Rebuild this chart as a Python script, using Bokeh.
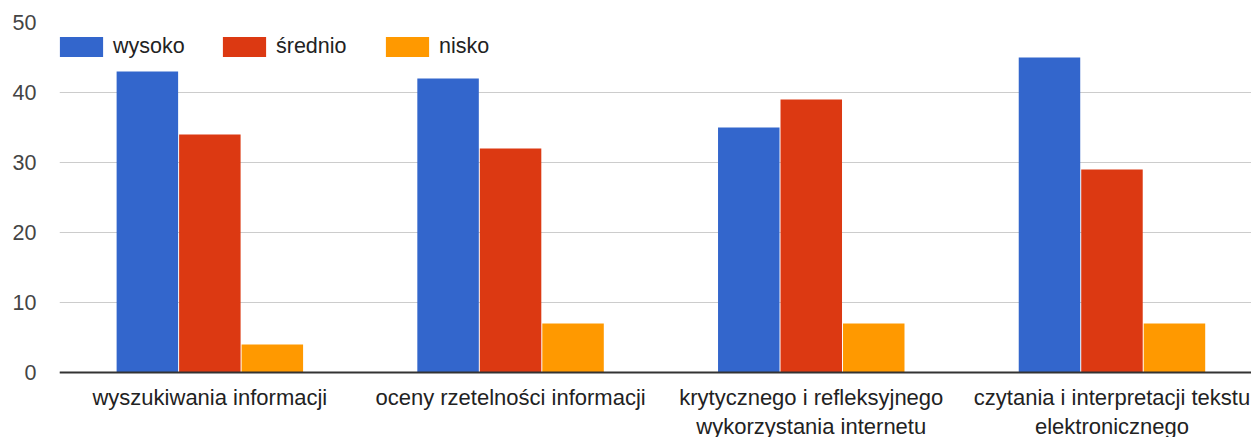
from bokeh.plotting import figure
from bokeh.models import Range1d, FixedTicker, Legend, LegendItem, ColumnDataSource, Span
from bokeh.core.properties import value
from bokeh.embed import file_html
from bokeh.resources import INLINE

categories = [
    "wyszukiwania informacji",
    "oceny rzetelności informacji",
    "krytycznego i refleksyjnego\nwykorzystania internetu",
    "czytania i interpretacji tekstu\nelektronicznego",
]
series_names = ["wysoko", "średnio", "nisko"]
wysoko = [43, 42, 35, 45]
srednio = [34, 32, 39, 29]
nisko = [4, 7, 7, 7]
colors = ["#3366cc", "#dc3912", "#ff9900"]
y_ticks = [0, 10, 20, 30, 40, 50]

FONT = "Liberation Sans"
FS = "21.5px"
CAT_FS = "22px"
centers = [i + 0.5 for i in range(len(categories))]

W, H = 1251, 437
TOP = 22                 # px above the 50 line
PX_PER_UNIT = 7.0        # vertical scale
y_min = -(H - TOP - 50 * PX_PER_UNIT) / PX_PER_UNIT   # room under the baseline for labels

p = figure(
    width=W, height=H,
    output_backend="svg", toolbar_location=None,
    x_range=Range1d(0, 3.964), y_range=Range1d(y_min, 50),
    min_border_left=59, min_border_right=0, min_border_top=TOP, min_border_bottom=0,
)
p.outline_line_color = None
p.background_fill_color = "white"
p.xaxis.visible = False

offsets = [-0.2078, 0.0, 0.2078]
items = []
for name, vals, col, off in zip(series_names, [wysoko, srednio, nisko], colors, offsets):
    src = ColumnDataSource(dict(x=[c + off for c in centers], top=vals))
    r = p.vbar(x="x", top="top", bottom=0, width=0.2045, source=src,
               fill_color=col, line_color=None)
    items.append(LegendItem(label=name, renderers=[r]))

# baseline at zero
p.add_layout(Span(location=0, dimension="width", line_color="#333333", line_width=2))

# category labels under the groups
label_y = -12 / PX_PER_UNIT
p.text(x=centers, y=[label_y] * len(centers), text=categories,
       text_align="center", text_baseline="top",
       text_font=value(FONT), text_font_size=value(CAT_FS), text_color="#222222",
       text_line_height=1.18)

frame_h = H - TOP
legend = Legend(items=items, orientation="horizontal",
                location=(-5, frame_h - 14 + 2.5 - 25),
                glyph_width=54, glyph_height=25, label_standoff=5, label_width=95,
                spacing=9, padding=0, margin=0,
                border_line_alpha=0, background_fill_alpha=0,
                label_text_font=FONT, label_text_font_size=FS,
                label_text_color="#222222", label_height=25)
p.add_layout(legend)

p.yaxis.ticker = FixedTicker(ticks=y_ticks)
p.yaxis.axis_line_color = None
p.yaxis.major_tick_line_color = None
p.yaxis.minor_tick_line_color = None
p.yaxis.major_label_standoff = 17
p.yaxis.major_label_text_font = FONT
p.yaxis.major_label_text_font_size = FS
p.yaxis.major_label_text_color = "#444444"

p.xgrid.grid_line_color = None
p.ygrid.ticker = FixedTicker(ticks=y_ticks)
p.ygrid.grid_line_color = "#cccccc"
p.ygrid.grid_line_width = 1

open("out.html", "w").write(file_html(p, INLINE))
